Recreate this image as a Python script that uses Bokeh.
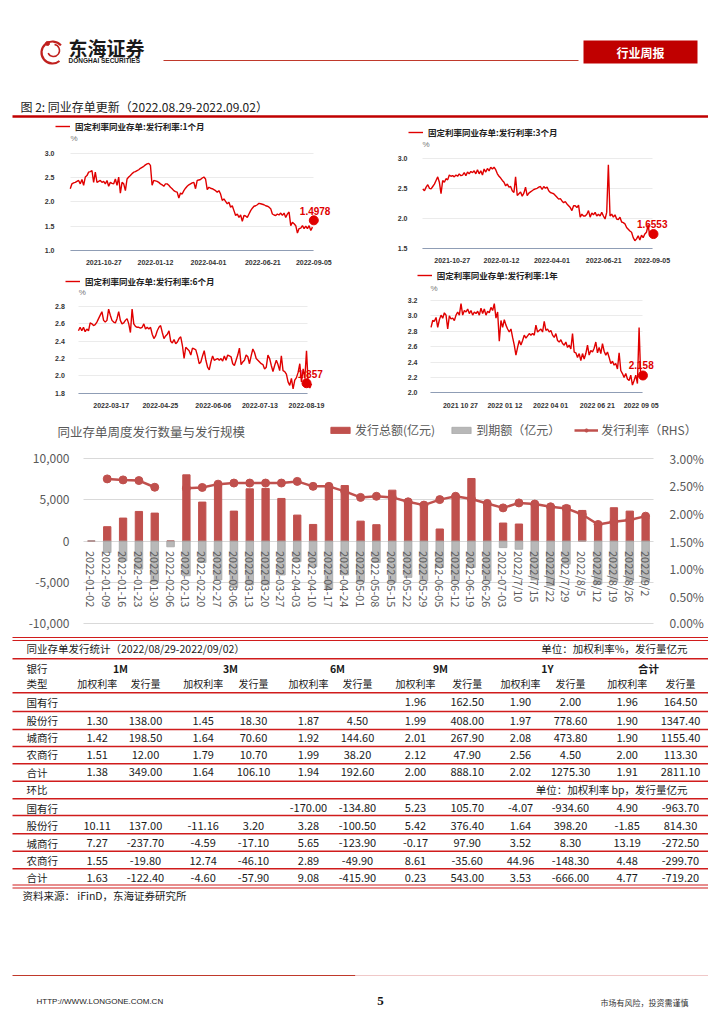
import numpy as np
import pandas as pd
from bokeh.plotting import figure
from bokeh.layouts import column, row
from bokeh.models import (Range1d, LinearAxis, FixedTicker, Grid,
                          NumeralTickFormatter, PrintfTickFormatter, DatetimeTickFormatter,
                          Legend, LegendItem, Label)
from bokeh.core.properties import value
from bokeh.embed import file_html
from bokeh.resources import INLINE

CJK = "Noto Sans CJK SC"
SANS = "Liberation Sans"
BAR_RED = "#c0504d"
GREY = "#a6a6a6"
LINE_RED = "#e00000"
RULE_RED = "#d01c1c"

# ---------------- data: small charts ----------------
c1_name = "固定利率同业存单:发行利率:1个月"
c1_dates = ("2021-09-07", "2022-09-03")
c1_rate = [2.27, 2.37, 2.39, 2.40, 2.42, 2.44, 2.37, 2.46, 2.34, 2.51,
           2.54, 2.61, 2.62, 2.64, 2.40, 2.61, 2.40, 2.42, 2.44, 2.40,
           2.42, 2.37, 2.44, 2.32, 2.40, 2.38, 2.37, 2.47, 2.34, 2.51,
           2.18, 2.40, 2.37, 2.23, 2.47, 2.51, 2.54, 2.58, 2.61, 2.62,
           2.64, 2.66, 2.69, 2.71, 2.73, 2.76, 2.78, 2.79, 2.75, 2.34,
           2.44, 2.43, 2.42, 2.40, 2.37, 2.35, 2.32, 2.37, 2.37, 2.34,
           2.30, 2.27, 2.23, 2.21, 2.20, 2.08, 2.18, 2.16, 2.23, 2.28,
           2.32, 2.35, 2.37, 2.39, 2.40, 2.27, 2.44, 2.45, 2.46, 2.49,
           2.51, 2.47, 2.25, 2.30, 2.28, 2.27, 2.25, 2.23, 2.20, 2.23,
           2.16, 2.03, 2.06, 2.01, 1.96, 1.99, 1.89, 1.92, 1.82, 1.72,
           1.75, 1.68, 1.73, 1.60, 1.72, 1.71, 1.68, 1.75, 1.82, 1.87,
           1.91, 1.92, 1.94, 1.97, 1.96, 1.95, 1.94, 1.92, 1.91, 1.89,
           1.86, 1.75, 1.73, 1.72, 1.75, 1.73, 1.77, 1.72, 1.77, 1.68,
           1.75, 1.79, 1.51, 1.58, 1.55, 1.51, 1.36, 1.45, 1.46, 1.51,
           1.45, 1.50, 1.45, 1.51, 1.41, 1.48]
c1_xticks = ["2021-10-27", "2022-01-12", "2022-04-01", "2022-06-21", "2022-09-05"]
c1_yticks = [1.0, 1.5, 2.0, 2.5, 3.0]
c1_mark = ("2022-09-05", 1.62)
c1_last = "1.4978"

c2_name = "固定利率同业存单:发行利率:3个月"
c2_dates = ("2021-09-11", "2022-09-09")
c2_rate = [2.49, 2.46, 2.52, 2.56, 2.50, 2.49, 2.53, 2.57, 2.63, 2.69,
           2.60, 2.41, 2.63, 2.60, 2.66, 2.64, 2.72, 2.70, 2.71, 2.69,
           2.72, 2.70, 2.74, 2.71, 2.72, 2.76, 2.71, 2.77, 2.74, 2.78,
           2.76, 2.79, 2.74, 2.81, 2.74, 2.79, 2.72, 2.82, 2.77, 2.83,
           2.79, 2.85, 2.82, 2.85, 2.81, 2.74, 2.70, 2.67, 2.63, 2.60,
           2.54, 2.57, 2.52, 2.53, 2.46, 2.43, 2.69, 2.38, 2.41, 2.44,
           2.37, 2.42, 2.52, 2.38, 2.42, 2.44, 2.46, 2.48, 2.49, 2.50,
           2.52, 2.53, 2.48, 2.53, 2.50, 2.52, 2.46, 2.43, 2.42, 2.41,
           2.38, 2.35, 2.32, 2.33, 2.29, 2.26, 2.28, 2.24, 2.21, 2.18,
           2.13, 2.21, 2.21, 2.18, 2.22, 2.02, 2.07, 2.04, 2.04, 2.07,
           2.13, 2.02, 2.09, 2.06, 2.10, 2.04, 2.07, 2.04, 2.10, 2.04,
           1.99, 2.10, 2.89, 2.04, 2.07, 2.02, 2.06, 1.99, 1.98, 2.02,
           1.94, 1.93, 1.91, 1.85, 1.82, 1.79, 1.77, 1.68, 1.63, 1.66,
           1.71, 1.64, 1.72, 1.68, 1.74, 1.77, 1.89, 1.71, 1.74, 1.77,
           1.76]
c2_xticks = ["2021-10-27", "2022-01-12", "2022-04-01", "2022-06-21", "2022-09-05"]
c2_yticks = [1.5, 2.0, 2.5, 3.0]
c2_mark = ("2022-09-07", 1.74)
c2_last = "1.6553"

c3_name = "固定利率同业存单:发行利率:6个月"
c3_dates = ("2022-02-19", "2022-08-23")
c3_rate = [2.52, 2.56, 2.52, 2.56, 2.51, 2.54, 2.52, 2.61, 2.60, 2.58,
           2.59, 2.62, 2.66, 2.70, 2.74, 2.64, 2.62, 2.64, 2.77, 2.70,
           2.64, 2.62, 2.61, 2.66, 2.74, 2.64, 2.60, 2.61, 2.64, 2.66,
           2.60, 2.50, 2.77, 2.60, 2.57, 2.56, 2.56, 2.55, 2.56, 2.60,
           2.54, 2.56, 2.54, 2.56, 2.48, 2.43, 2.46, 2.52, 2.56, 2.58,
           2.50, 2.43, 2.46, 2.48, 2.52, 2.40, 2.38, 2.42, 2.37, 2.39,
           2.43, 2.45, 2.35, 2.20, 2.33, 2.31, 2.29, 2.24, 2.32, 2.31,
           2.30, 2.23, 2.14, 2.16, 2.23, 2.29, 2.18, 2.10, 2.07, 2.16,
           2.23, 2.18, 2.19, 2.20, 2.18, 2.20, 2.17, 2.23, 2.18, 2.24,
           2.23, 2.22, 2.14, 2.12, 2.18, 2.24, 2.32, 2.13, 2.16, 2.18,
           2.24, 2.22, 2.14, 2.23, 2.31, 2.27, 2.20, 2.18, 2.16, 2.14,
           2.13, 2.08, 2.10, 2.24, 2.20, 2.12, 2.05, 2.12, 2.18, 2.13,
           2.06, 2.23, 2.06, 2.05, 2.02, 1.93, 1.89, 1.97, 1.85, 1.95,
           1.98, 2.04, 2.14, 1.93, 2.08, 1.97, 2.29, 1.91, 1.86, 1.91]
c3_xticks = ["2022-03-17", "2022-04-25", "2022-06-06", "2022-07-13", "2022-08-19"]
c3_yticks = [1.8, 2.0, 2.2, 2.4, 2.6, 2.8]
c3_mark = ("2022-08-19", 1.915)
c3_last = "1.857"

c4_name = "固定利率同业存单:发行利率:1年"
c4_dates = ("2021-09-06", "2022-09-10")
c4_rate = [2.85, 2.94, 2.93, 2.98, 2.85, 2.95, 3.01, 2.97, 3.04, 3.01,
           2.83, 3.00, 2.96, 2.97, 2.94, 3.01, 3.05, 3.01, 3.16, 3.01,
           3.07, 3.05, 3.09, 3.03, 3.07, 3.01, 3.05, 3.03, 3.06, 3.01,
           3.10, 3.03, 3.09, 3.01, 3.06, 3.04, 3.11, 3.07, 3.16, 2.97,
           3.05, 2.67, 2.94, 2.85, 2.95, 2.88, 2.83, 2.79, 2.83, 2.72,
           2.62, 2.49, 2.59, 2.68, 2.62, 2.68, 2.75, 2.71, 2.74, 2.77,
           2.75, 2.77, 2.75, 2.88, 2.79, 2.81, 2.83, 2.79, 2.93, 2.81,
           2.83, 2.79, 2.81, 2.75, 2.72, 2.77, 2.68, 2.66, 2.69, 2.64,
           2.62, 2.66, 2.59, 2.62, 2.57, 2.77, 2.53, 2.52, 2.46, 2.51,
           2.42, 2.51, 2.44, 2.51, 2.62, 2.49, 2.55, 2.53, 2.58, 2.66,
           2.52, 2.59, 2.51, 2.64, 2.54, 2.49, 2.53, 2.46, 2.38, 2.41,
           2.36, 2.38, 2.31, 2.52, 2.29, 2.25, 2.20, 2.25, 2.18, 2.16,
           2.23, 2.10, 2.16, 2.23, 2.12, 2.85, 2.18, 2.25, 2.23]
c4_xticks = ["2021-10-27", "2022-01-12", "2022-04-01", "2022-06-21", "2022-09-05"]
c4_yticks = [2.0, 2.2, 2.4, 2.6, 2.8, 3.0, 3.2]
c4_mark = ("2022-09-08", 2.225)
c4_last = "2.158"

# ---------------- data: weekly chart ----------------
weeks = ["2022-01-02", "2022-01-09", "2022-01-16", "2022-01-23", "2022-01-30", "2022-02-06",
         "2022-02-13", "2022-02-20", "2022-02-27", "2022-03-06", "2022-03-13", "2022-03-20",
         "2022-03-27", "2022-04-03", "2022-04-10", "2022-04-17", "2022-04-24", "2022-05-01",
         "2022-05-08", "2022-05-15", "2022-05-22", "2022-05-29", "2022-06-05", "2022-06-12",
         "2022-06-19", "2022-06-26", "2022-07-03", "2022/7/10", "2022/7/15", "2022/7/22",
         "2022/7/29", "2022/8/5", "2022/8/12", "2022/8/19", "2022/8/26", "2022/9/2"]
issue_amt = [0, 1730, 2770, 3570, 3370, 0, 7990, 4700, 7030, 3610, 6300, 6350,
             5140, 3130, 2000, 6550, 6700, 2400, 1970, 6140, 4940, 4300, 1450, 5500,
             7550, 4540, 2170, 2050, 4540, 4300, 4300, 3690, 2170, 4020, 3610, 2811.1]
mature_amt = [0, -1400, -2400, -3400, -4900, -700, -4200, -2600, -4700, -5600, -5300, -5300,
              -4100, -2500, -3100, -5800, -4100, -4900, -2600, -5000, -4400, -4800, -3200, -4800,
              -3200, -4800, -800, -1000, -4700, -5400, -2800, 0, -5200, -4900, -4800, -4900]
issue_rate = [np.nan, 2.625, 2.607, 2.595, 2.474, np.nan, 2.456, 2.47, 2.53, 2.55, 2.55, 2.55,
              2.55, 2.58, 2.49, 2.49, 2.40, 2.29, 2.31, 2.29, 2.21, 2.15, 2.25, 2.31,
              2.26, 2.18, 2.10, 2.19, 2.17, 2.12, 2.09, 1.98, 1.80, 1.85, 1.88, 1.95]
amt_ticks = [-10000, -5000, 0, 5000, 10000]
rate_ticks = [0.0, 0.5, 1.0, 1.5, 2.0, 2.5, 3.0]

# ---------------- data: table ----------------
tbl_periods = ["1M", "3M", "6M", "9M", "1Y", "合计"]
tbl_sub = ["加权利率", "发行量"]
tbl_banks = ["国有行", "股份行", "城商行", "农商行", "合计"]
tbl_week = [
    [None, None, None, None, None, None, 1.96, 162.50, 1.90, 2.00, 1.96, 164.50],
    [1.30, 138.00, 1.45, 18.30, 1.87, 4.50, 1.99, 408.00, 1.97, 778.60, 1.90, 1347.40],
    [1.42, 198.50, 1.64, 70.60, 1.92, 144.60, 2.01, 267.90, 2.08, 473.80, 1.90, 1155.40],
    [1.51, 12.00, 1.79, 10.70, 1.99, 38.20, 2.12, 47.90, 2.56, 4.50, 2.00, 113.30],
    [1.38, 349.00, 1.64, 106.10, 1.94, 192.60, 2.00, 888.10, 2.02, 1275.30, 1.91, 2811.10],
]
tbl_chg = [
    [None, None, None, None, -170.00, -134.80, 5.23, 105.70, -4.07, -934.60, 4.90, -963.70],
    [10.11, 137.00, -11.16, 3.20, 3.28, -100.50, 5.42, 376.40, 1.64, 398.20, -1.85, 814.30],
    [7.27, -237.70, -4.59, -17.10, 5.65, -123.90, -0.17, 97.90, 3.52, 8.30, 13.19, -272.50],
    [1.55, -19.80, 12.74, -46.10, 2.89, -49.90, 8.61, -35.60, 44.96, -148.30, 4.48, -299.70],
    [1.63, -122.40, -4.60, -57.90, 9.08, -415.90, 0.23, 543.00, 3.53, -666.00, 4.77, -719.20],
]

HAS_CROSS = "cross_bounds" in Grid.properties()


def ms(d):
    return pd.Timestamp(d).value / 1e6


def lin(p0, v0, p1, v1, p):
    """value at page pixel p, for a linear scale through (p0, v0) and (p1, v1)"""
    return v0 + (p - p0) * (v1 - v0) / (p1 - p0)


def unalign(p):
    try:
        p.frame_align = False
    except Exception:
        pass


def blank(p):
    p.outline_line_color = None
    p.grid.visible = False
    p.background_fill_color = "white"
    p.border_fill_color = "white"
    unalign(p)


def put_text(p, xs, ys, texts, size, color="#1a1a1a", align="left", font=CJK, style="normal"):
    p.text(x=xs, y=ys, text=texts, text_font=value(font), text_font_size=value(size),
           text_color=color, text_align=align, text_baseline="middle", text_font_style=style)


def small_chart(w, h, fx0, fy0, xa, ya, frame_lr, dates_se, rates, xticks, xfmt, yticks, name,
                leg_px, y_stand, x_stand, pct_y, mark, last_label, last_pos):
    (xp0, xd0), (xp1, xd1) = xa
    (yp0, yv0), (yp1, yv1) = ya

    def xv(px):
        return lin(xp0, ms(xd0), xp1, ms(xd1), px)

    def yv(py):
        return lin(yp0, yv0, yp1, yv1, py)

    p = figure(width=w, height=h, x_axis_type="datetime",
               x_range=Range1d(xv(fx0), xv(fx0 + w)), y_range=Range1d(yv(fy0 + h), yv(fy0)),
               toolbar_location=None, output_backend="svg", min_border=0)
    unalign(p)
    p.outline_line_color = None
    fl, fr = xv(frame_lr[0]), xv(frame_lr[1])
    dates = pd.date_range(dates_se[0], dates_se[1], periods=len(rates))
    r = p.line(x=dates, y=rates, line_color=LINE_RED, line_width=1.4)
    p.scatter(x=[pd.Timestamp(mark[0])], y=[mark[1]], size=9, color=LINE_RED)
    p.xgrid.visible = False
    g = p.ygrid[0]
    g.ticker = FixedTicker(ticks=yticks)
    g.grid_line_color = "#ebebeb"
    if HAS_CROSS:
        g.cross_bounds = (fl, fr)
    ya_ = p.yaxis[0]
    ya_.fixed_location = fl
    ya_.ticker = FixedTicker(ticks=yticks)
    ya_.formatter = NumeralTickFormatter(format="0.0")
    ya_.axis_line_color = None
    ya_.major_tick_line_color = None
    ya_.minor_tick_line_color = None
    ya_.major_label_standoff = y_stand
    xa_ = p.xaxis[0]
    xa_.fixed_location = yticks[0]
    xa_.bounds = (fl, fr)
    xa_.ticker = FixedTicker(ticks=[ms(t) for t in xticks])
    xa_.formatter = DatetimeTickFormatter(
        microseconds=xfmt, milliseconds=xfmt, seconds=xfmt, minsec=xfmt, minutes=xfmt,
        hourmin=xfmt, hours=xfmt, days=xfmt, months=xfmt, years=xfmt)
    xa_.axis_line_color = "#8f9db5"
    xa_.major_tick_line_color = None
    xa_.minor_tick_line_color = None
    xa_.major_label_standoff = x_stand
    for ax in (xa_, ya_):
        ax.major_label_text_font = SANS
        ax.major_label_text_font_size = "7px"
        ax.major_label_text_font_style = "bold"
        ax.major_label_text_color = "#333333"
    leg = Legend(items=[LegendItem(label=name, renderers=[r])],
                 location=(leg_px[0] - fx0, fy0 + h - leg_px[1]),
                 orientation="horizontal", label_text_font=CJK, label_text_font_size="8.5px",
                 label_text_font_style="bold", label_text_color="#222222",
                 glyph_width=15, glyph_height=6, label_height=10, label_standoff=5,
                 padding=0, margin=0, border_line_color=None, background_fill_alpha=0)
    p.add_layout(leg)
    p.add_layout(Label(x=fl, y=pct_y, text="%", text_font=SANS, text_font_size="8px",
                       text_color="#777777", text_baseline="middle", text_align="left"))
    p.add_layout(Label(x=ms(last_pos[0]), y=last_pos[1], text=last_label, text_font=SANS,
                       text_font_size="10px", text_font_style="bold", text_color=LINE_RED,
                       text_align="center", text_baseline="middle"))
    return p


# page bands (page pixels): header 0-120, charts 120-265 and 265-410, weekly 410-630,
# table and footer 630-1008
c1 = small_chart(352, 145, 0, 120, ((103.3, "2021-10-27"), (313.3, "2022-09-05")),
                 ((250, 1.0), (152.7, 3.0)), (70, 313), c1_dates, c1_rate, c1_xticks,
                 "%Y-%m-%d", c1_yticks, c1_name, (55, 132), 10, 3, 3.30,
                 c1_mark, c1_last, ("2022-09-07", 1.82))
c2 = small_chart(356, 145, 352, 120, ((451.7, "2021-10-27"), (651.7, "2022-09-05")),
                 ((248, 1.5), (157.7, 3.0)), (422, 652), c2_dates, c2_rate, c2_xticks,
                 "%Y-%m-%d", c2_yticks, c2_name, (408, 138.3), 9, 3, 3.22,
                 c2_mark, c2_last, ("2022-09-05", 1.907))
c3 = small_chart(352, 145, 0, 265, ((110.7, "2022-03-17"), (306, "2022-08-19")),
                 ((392.7, 1.8), (306, 2.8)), (78.3, 307.3), c3_dates, c3_rate, c3_xticks,
                 "%Y-%m-%d", c3_yticks, c3_name, (65, 286.7), 8, 4, 2.958,
                 c3_mark, c3_last, ("2022-08-22", 2.024))
c4 = small_chart(356, 145, 352, 265, ((460, "2021-10-27"), (640.7, "2022-09-05")),
                 ((392.3, 2.0), (300, 3.2)), (430, 642), c4_dates, c4_rate, c4_xticks,
                 "%Y %m %d", c4_yticks, c4_name, (416.7, 280.7), 7, 3, 3.36,
                 c4_mark, c4_last, ("2022-09-05", 2.355))

# ---------------- header ----------------
hdr = figure(width=708, height=120, x_range=Range1d(0, 708), y_range=Range1d(120, 0),
             x_axis_location=None, y_axis_location=None, toolbar_location=None,
             output_backend="svg", min_border=0)
blank(hdr)
hdr.arc(x=[52, 53], y=[52, 50], radius=[11, 6], start_angle=[0.7, 3.6], end_angle=[5.4, 1.4],
        line_color="#c0201e", line_width=[2.2, 1.5])
hdr.scatter(x=[47], y=[43], size=4, color="#c0201e")
put_text(hdr, [68], [47], ["东海证券"], "19px", "#1a1a1a", style="bold")
put_text(hdr, [68], [60], ["DONGHAI SECURITIES"], "6.5px", "#1a1a1a", font=SANS, style="bold")
hdr.segment(x0=[163], x1=[578], y0=[60], y1=[60], line_color="#c0392b", line_width=1)
hdr.quad(left=[583], right=[697], top=[40], bottom=[63], fill_color="#c00000", line_color=None)
put_text(hdr, [640], [52], ["行业周报"], "12px", "white", align="center", style="bold")
put_text(hdr, [20], [106], ["图 2: 同业存单更新（2022.08.29-2022.09.02）"], "12px", "#222222")
hdr.segment(x0=[12], x1=[708], y0=[116], y1=[116], line_color="#c00000", line_width=2.5)

# ---------------- weekly chart ----------------
MX0, MX1, MY0, MY1 = 0, 708, 410, 630     # page extent of this figure
idx = list(range(len(weeks)))
cat_px = (90.9, 645.1)          # page x of first and last category centre
amt_px = (623.3, 457.7)         # page y of -10000 and 10000 (and of 0% / 3%)


def mx(px):
    return lin(cat_px[0], 0, cat_px[1], len(weeks) - 1, px)


def my(py):
    return lin(amt_px[0], amt_ticks[0], amt_px[1], amt_ticks[-1], py)


def mr(py):
    return lin(amt_px[0], rate_ticks[0], amt_px[1], rate_ticks[-1], py)


m = figure(width=MX1 - MX0, height=MY1 - MY0, x_range=Range1d(mx(MX0), mx(MX1)),
           y_range=Range1d(my(MY1), my(MY0)), toolbar_location=None,
           output_backend="svg", min_border=0)
unalign(m)
m.outline_line_color = None
m.extra_y_ranges = {"rate": Range1d(mr(MY1), mr(MY0))}
rb = m.vbar(x=idx, top=issue_amt, width=0.46, color=BAR_RED)
gb = m.vbar(x=idx, top=mature_amt, width=0.48, color=GREY, alpha=0.8)
rl = m.line(x=idx, y=issue_rate, y_range_name="rate", line_color=BAR_RED, line_width=2.5)
rs = m.scatter(x=idx, y=issue_rate, y_range_name="rate", size=8, color=BAR_RED)
m.xgrid.visible = False
mg = m.ygrid[0]
mg.ticker = FixedTicker(ticks=amt_ticks)
mg.grid_line_color = "#d9d9d9"
if HAS_CROSS:
    mg.cross_bounds = (-0.5, len(weeks) - 0.5)
la = m.yaxis[0]
la.fixed_location = -0.5
la.ticker = FixedTicker(ticks=amt_ticks)
la.formatter = NumeralTickFormatter(format="0,0")
la.major_label_text_font_size = "12px"
la.major_label_standoff = 8
ra = LinearAxis(y_range_name="rate", ticker=FixedTicker(ticks=rate_ticks),
                formatter=PrintfTickFormatter(format="%.2f%%"), fixed_location=len(weeks) - 0.5)
m.add_layout(ra, "right")
ra.major_label_text_font_size = "12px"
ra.major_label_standoff = 10
xa = m.xaxis[0]
xa.fixed_location = 0
xa.ticker = FixedTicker(ticks=idx)
xa.major_label_overrides = {i: w for i, w in zip(idx, weeks)}
xa.major_label_orientation = "vertical"
xa.major_label_standoff = 4
xa.major_label_text_font_size = "11px"
for ax in (la, ra, xa):
    ax.axis_line_color = None
    ax.major_tick_line_color = None
    ax.minor_tick_line_color = None
    ax.major_label_text_font = CJK
    ax.major_label_text_color = "#595959"
m.add_layout(Label(x=mx(57), y=my(431), text="同业存单周度发行数量与发行规模", text_font=CJK,
                   text_font_size="12.5px", text_color="#595959", text_baseline="middle"))
ml = Legend(items=[LegendItem(label="发行总额(亿元)", renderers=[rb]),
                   LegendItem(label="到期额（亿元）", renderers=[gb]),
                   LegendItem(label="发行利率（RHS）", renderers=[rl, rs])],
            location=(328 - MX0, MY1 - 438), orientation="horizontal", label_text_font=CJK,
            label_text_font_size="12px", label_text_color="#595959", glyph_width=24,
            glyph_height=8, label_height=14, label_standoff=3, spacing=14, padding=0,
            margin=0, border_line_color=None, background_fill_alpha=0)
m.add_layout(ml)

# ---------------- table + footer ----------------
t = figure(width=708, height=378, x_range=Range1d(0, 708), y_range=Range1d(1008, 630),
           x_axis_location=None, y_axis_location=None, toolbar_location=None,
           output_backend="svg", min_border=0)
blank(t)
rule_y = [637, 640, 658.3, 692.3, 711, 729, 746, 763.3, 780.7, 798.3, 815, 833.3, 850.7,
          868.3, 884.5, 887.5]
rule_w = [1.2, 1.2, 1.6, 1.6, 1.6, 1.6, 1.6, 1.6, 1.6, 1.6, 1.6, 1.6, 1.6, 1.6, 1.2, 1.2]
t.segment(x0=[12] * len(rule_y), x1=[708] * len(rule_y), y0=rule_y, y1=rule_y,
          line_color=RULE_RED, line_width=rule_w)
col_x = [96.7, 145, 202.7, 253, 308, 357, 415, 466.7, 520, 570, 626.7, 680]
period_x = [120, 230, 337, 440, 547, 648]
sec1_y = [701.7, 720, 737.3, 754.3, 771.7]
sec2_y = [807.5, 825, 842.7, 860, 877.3]
put_text(t, [26], [648.3], ["同业存单发行统计（2022/08/29-2022/09/02）"], "10.5px")
put_text(t, [687], [648.3], ["单位：加权利率%，发行量亿元"], "10.5px", align="right")
put_text(t, [26, 26], [668.3, 683.3], ["银行", "类型"], "10.5px")
put_text(t, period_x, [668.3] * 6, tbl_periods, "10.5px", align="center", style="bold")
put_text(t, col_x, [683.3] * 12, tbl_sub * 6, "10px", align="center")
put_text(t, [26] * 5, sec1_y, tbl_banks, "10.5px")
put_text(t, [26], [789], ["环比"], "10.5px")
put_text(t, [687], [789], ["单位：加权利率 bp，发行量亿元"], "10.5px", align="right")
put_text(t, [26] * 5, sec2_y, tbl_banks, "10.5px")
for table, ys in ((tbl_week, sec1_y), (tbl_chg, sec2_y)):
    xs, yv, tx = [], [], []
    for r_i, rowvals in enumerate(table):
        for c_i, v in enumerate(rowvals):
            if v is not None:
                xs.append(col_x[c_i])
                yv.append(ys[r_i])
                tx.append(f"{v:.2f}")
    put_text(t, xs, yv, tx, "11px", align="center")
put_text(t, [22], [895], ["资料来源： iFinD，东海证券研究所"], "10.5px")
t.segment(x0=[12, 355], x1=[355, 708], y0=[975, 975], y1=[975, 975],
          line_color=["#c0392b", "#f0c8c8"], line_width=1)
put_text(t, [36], [1001], ["HTTP://WWW.LONGONE.COM.CN"], "8px", "#222222", font=SANS)
put_text(t, [380], [1000], ["5"], "13px", "#111111", align="center", font="Liberation Serif",
         style="bold")
put_text(t, [688], [1002], ["市场有风险，投资需谨慎"], "8px", "#333333", align="right")

layout = column(hdr, row(c1, c2, spacing=0), row(c3, c4, spacing=0), m, t, spacing=0)
open("out.html", "w").write(file_html(layout, INLINE, title="同业存单更新"))
